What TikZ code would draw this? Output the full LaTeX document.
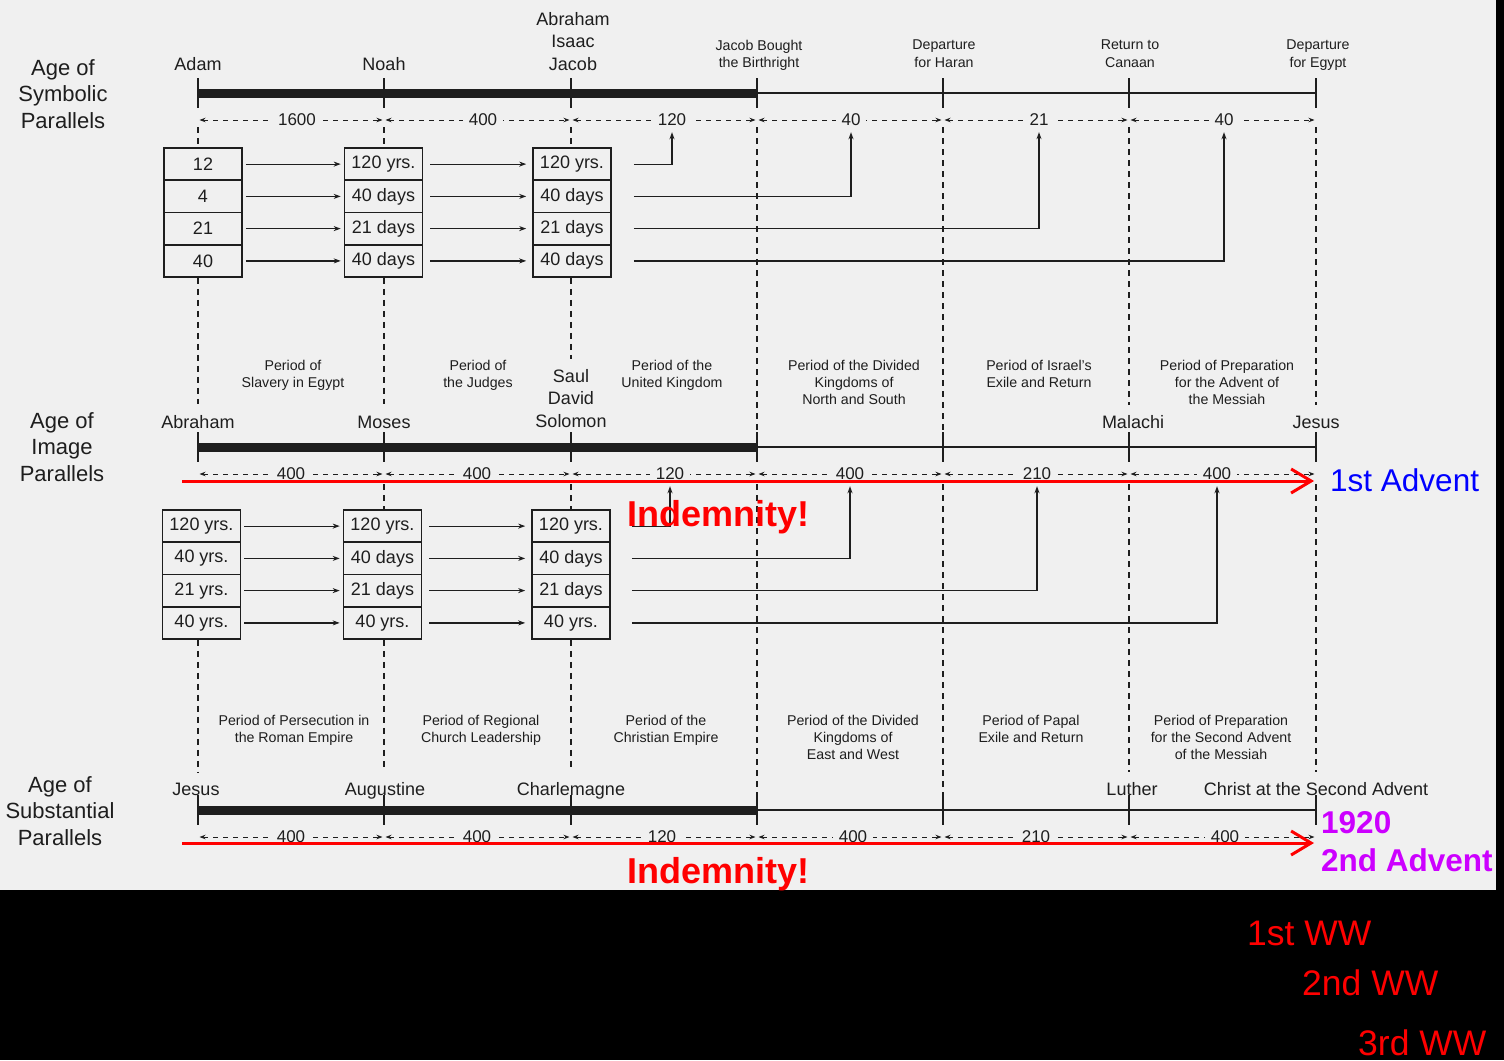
\documentclass[tikz,border=0pt]{standalone}
\usepackage{fontspec}
\setmainfont{Liberation Sans}
\usetikzlibrary{arrows.meta}
\definecolor{paper}{RGB}{240,240,240}
\definecolor{ink}{RGB}{30,30,30}
\definecolor{advblue}{RGB}{0,0,255}
\definecolor{advmag}{RGB}{204,0,255}
\tikzset{
  agetitle/.style={anchor=north, align=center, inner sep=0pt, text=ink, font=\fontsize{22}{26.5}\selectfont},
  pname/.style={anchor=base, inner sep=0pt, text=ink, font=\fontsize{18}{22.5}\selectfont},
  pnames/.style={anchor=north, align=center, inner sep=0pt, text=ink, font=\fontsize{18}{22.5}\selectfont},
  plabel/.style={anchor=north, align=center, inner sep=0pt, text=ink, font=\fontsize{14.2}{17.2}\selectfont},
  heavy/.style={draw=ink, line width=9pt},
  light/.style={draw=ink, line width=2.5pt},
  tickmark/.style={draw=ink, line width=1.8pt},
  span/.style={draw=ink, line width=1pt, dash pattern=on 5pt off 5pt, arrows={Stealth[length=6pt,width=4.5pt]-Stealth[length=6pt,width=4.5pt]}},
  spanlbl/.style={fill=paper, inner xsep=6pt, inner ysep=2pt, text=ink, font=\fontsize{17}{20}\selectfont},
  cell/.style={draw=ink, line width=1.6pt, minimum width=78pt, minimum height=32.25pt, inner sep=0pt, text=ink, font=\fontsize{18}{20}\selectfont},
  link/.style={draw=ink, line width=1.2pt, arrows={-Stealth[length=7pt,width=5pt]}},
  guide/.style={draw=ink, line width=1.2pt, dash pattern=on 6pt off 5pt},
  redarrow/.style={draw=red, line width=3pt, arrows={-Straight Barb[length=20pt,width=24pt]}},
  indem/.style={anchor=base, inner sep=0pt, text=red, font=\fontsize{36}{40}\selectfont\bfseries},
  advlbl/.style={anchor=base west, inner sep=0pt, font=\fontsize{31.5}{36}\selectfont},
  ww/.style={anchor=base west, inner sep=0pt, text=red, font=\fontsize{35.5}{40}\selectfont},
}
\begin{document}
\begin{tikzpicture}[x=1pt,y=-1pt]
\useasboundingbox (0,0) rectangle (1504,1060);
\fill[black] (0,0) rectangle (1504,1060);
\fill[paper] (0,0) rectangle (1496,890);

% column coordinates
\foreach \col/\xx in {A/198,B/384,C/571,D/757,E/943,F/1129,G/1316}{
  \coordinate (t1\col) at (\xx,93);
  \coordinate (m1\col) at (\xx,120);
  \coordinate (t2\col) at (\xx,447);
  \coordinate (m2\col) at (\xx,474);
  \coordinate (t3\col) at (\xx,810);
  \coordinate (m3\col) at (\xx,837);
}

% titles
\node[agetitle] (title1) at (63,59) {Age of\\Symbolic\\Parallels};
\node[agetitle] (title2) at (62,412) {Age of\\Image\\Parallels};
\node[agetitle] (title3) at (60,776) {Age of\\Substantial\\Parallels};

% ---------- Row 1 ----------
\node[pname] (adam) at (198,70) {Adam};
\node[pname] (noah) at (384,70) {Noah};
\node[pnames] (aij) at (573,12) {Abraham\\Isaac\\Jacob};
\node[plabel] (jbb) at (759,40) {Jacob Bought\\the Birthright};
\node[plabel] (dfh) at (944,40) {Departure\\for Haran};
\node[plabel] (rtc) at (1130,40) {Return to\\Canaan};
\node[plabel] (dfe) at (1318,40) {Departure\\for Egypt};

% ---------- Row 2 labels ----------
\node[plabel] (per21) at (293,360) {Period of\\Slavery in Egypt};
\node[plabel] (per22) at (478,360) {Period of\\the Judges};
\node[plabel] (per23) at (672,360) {Period of the\\United Kingdom};
\node[plabel] (per24) at (854,360) {Period of the Divided\\Kingdoms of\\North and South};
\node[plabel] (per25) at (1039,360) {Period of Israel's\\Exile and Return};
\node[plabel] (per26) at (1227,360) {Period of Preparation\\for the Advent of\\the Messiah};
\node[pname] (abraham2) at (198,428) {Abraham};
\node[pname] (moses) at (384,428) {Moses};
\node[pnames] (sds) at (571,369) {Saul\\David\\Solomon};
\node[pname] (malachi) at (1133,428) {Malachi};
\node[pname] (jesus2) at (1316,428) {Jesus};

% ---------- Row 3 labels ----------
\node[plabel] (per31) at (294,715) {Period of Persecution in\\the Roman Empire};
\node[plabel] (per32) at (481,715) {Period of Regional\\Church Leadership};
\node[plabel] (per33) at (666,715) {Period of the\\Christian Empire};
\node[plabel] (per34) at (853,715) {Period of the Divided\\Kingdoms of\\East and West};
\node[plabel] (per35) at (1031,715) {Period of Papal\\Exile and Return};
\node[plabel] (per36) at (1221,715) {Period of Preparation\\for the Second Advent\\of the Messiah};
\node[pname] (jesus3) at (196,795) {Jesus};
\node[pname] (augustine) at (385,795) {Augustine};
\node[pname] (charlemagne) at (571,795) {Charlemagne};
\node[pname] (luther) at (1132,795) {Luther};
\node[pname] (christ) at (1316,795) {Christ at the Second Advent};

% ---------- timelines ----------
\foreach \rw in {1,2,3}{
  \draw[heavy] (t\rw A) -- (t\rw D);
  \draw[light] (t\rw D) -- (t\rw G);
  \foreach \col in {A,B,C,D,E,F,G}
    \draw[tickmark] ([yshift=15pt]t\rw\col) -- ([yshift=-15pt]t\rw\col);
  \foreach \ca/\cb in {A/B,B/C,C/D,D/E,E/F,F/G}
    \draw[span] ([xshift=1.5pt]m\rw\ca) -- ([xshift=-1.5pt]m\rw\cb);
}

% span labels
\node[spanlbl] (s1ab) at (297,120) {1600};
\node[spanlbl] (s1bc) at (483,120) {400};
\node[spanlbl] (s1cd) at (672,120) {120};
\node[spanlbl] (s1de) at (851,120) {40};
\node[spanlbl] (s1ef) at (1039,120) {21};
\node[spanlbl] (s1fg) at (1224,120) {40};

\node[spanlbl] (s2ab) at (291,474) {400};
\node[spanlbl] (s2bc) at (477,474) {400};
\node[spanlbl] (s2cd) at (670,474) {120};
\node[spanlbl] (s2de) at (850,474) {400};
\node[spanlbl] (s2ef) at (1037,474) {210};
\node[spanlbl] (s2fg) at (1217,474) {400};

\node[spanlbl] (s3ab) at (291,837) {400};
\node[spanlbl] (s3bc) at (477,837) {400};
\node[spanlbl] (s3cd) at (662,837) {120};
\node[spanlbl] (s3de) at (853,837) {400};
\node[spanlbl] (s3ef) at (1036,837) {210};
\node[spanlbl] (s3fg) at (1225,837) {400};

% ---------- cells ----------
\foreach \i/\yy/\ta/\tb/\tc in {1/164.1/12/120 yrs./120 yrs.,2/196.4/4/40 days/40 days,3/228.6/21/21 days/21 days,4/260.9/40/40 days/40 days}{
  \node[cell] (p1A\i) at (203,\yy) {\ta};
  \node[cell] (p1B\i) at (383.5,\yy) {\tb};
  \node[cell] (p1C\i) at (572,\yy) {\tc};
}
\foreach \i/\yy/\ta/\tb/\tc in {1/526.1/120 yrs./120 yrs./120 yrs.,2/558.4/40 yrs./40 days/40 days,3/590.6/21 yrs./21 days/21 days,4/622.9/40 yrs./40 yrs./40 yrs.}{
  \node[cell] (p2A\i) at (201.5,\yy) {\ta};
  \node[cell] (p2B\i) at (382.5,\yy) {\tb};
  \node[cell] (p2C\i) at (571,\yy) {\tc};
}

% links between cells
\foreach \rw in {1,2}{
  \foreach \i in {1,2,3,4}{
    \draw[link, shorten <=3pt, shorten >=3pt] (p\rw A\i) -- (p\rw B\i);
    \draw[link, shorten <=7pt, shorten >=6pt] (p\rw B\i) -- (p\rw C\i);
  }
}
\draw[link, shorten <=22pt, shorten >=4pt] (p1C1) -| (s1cd);
\draw[link, shorten <=22pt, shorten >=4pt] (p1C2) -| (s1de);
\draw[link, shorten <=22pt, shorten >=4pt] (p1C3) -| (s1ef);
\draw[link, shorten <=22pt, shorten >=4pt] (p1C4) -| (s1fg);
\draw[link, shorten <=21pt, shorten >=4pt] (p2C1) -| (s2cd);
\draw[link, shorten <=21pt, shorten >=4pt] (p2C2) -| (s2de);
\draw[link, shorten <=21pt, shorten >=4pt] (p2C3) -| (s2ef);
\draw[link, shorten <=21pt, shorten >=4pt] (p2C4) -| (s2fg);

% ---------- vertical guides row 1 -> row 2 ----------
\draw[guide] ([yshift=-7pt]m1A) -- (m1A |- p1A1.north);
\draw[guide] ([yshift=-7pt]m1B) -- (m1B |- p1B1.north);
\draw[guide] ([yshift=-7pt]m1C) -- (m1C |- p1C1.north);
\draw[guide, shorten >=11pt] (m1A |- p1A4.south) -- (m1A |- abraham2.north);
\draw[guide, shorten >=11pt] (m1B |- p1B4.south) -- (m1B |- moses.north);
\draw[guide, shorten >=10pt] (m1C |- p1C4.south) -- (m1C |- sds.north);
\draw[guide] ([yshift=-7pt]m1D) -- ([yshift=15pt]t2D);
\draw[guide] ([yshift=-7pt]m1E) -- ([yshift=15pt]t2E);
\draw[guide, shorten >=10pt] ([yshift=-7pt]m1F) -- (m1F |- malachi.north);
\draw[guide, shorten >=10pt] ([yshift=-7pt]m1G) -- (m1G |- jesus2.north);

% ---------- vertical guides row 2 -> row 3 ----------
\draw[guide] ([yshift=-10pt]m2B) -- (m2B |- p2B1.north);
\draw[guide] ([yshift=-10pt]m2C) -- (m2C |- p2C1.north);
\draw[guide, shorten >=10pt] (m2A |- p2A4.south) -- (m2A |- jesus3.north);
\draw[guide, shorten >=10pt] (m2B |- p2B4.south) -- (m2B |- augustine.north);
\draw[guide, shorten >=10pt] (m2C |- p2C4.south) -- (m2C |- charlemagne.north);
\draw[guide] ([yshift=-10pt]m2D) -- ([yshift=15pt]t3D);
\draw[guide] ([yshift=-10pt]m2E) -- ([yshift=15pt]t3E);
\draw[guide, shorten >=10pt] ([yshift=-10pt]m2F) -- (m2F |- luther.north);
\draw[guide, shorten >=10pt] ([yshift=-10pt]m2G) -- (m2G |- christ.north);

% ---------- red overlays ----------
\coordinate (r2s) at (182,481);
\coordinate (r2e) at (1314,481);
\coordinate (r3s) at (182,843);
\coordinate (r3e) at (1314,843);
\draw[redarrow] (r2s) -- (r2e);
\draw[redarrow] (r3s) -- (r3e);

\node[advlbl, text=advblue] (adv1) at (1330,491) {1st Advent};
\node[advlbl, text=advmag, font=\fontsize{31.5}{36}\selectfont\bfseries] (y1920) at (1321,833) {1920};
\node[advlbl, text=advmag, font=\fontsize{31.5}{36}\selectfont\bfseries] (adv2) at (1321,871) {2nd Advent};

\node[indem] (ind1) at (718,526) {Indemnity!};
\node[indem] (ind2) at (718,883) {Indemnity!};

\node[ww] (ww1) at (1247,945) {1st WW};
\node[ww] (ww2) at (1302,995) {2nd WW};
\node[ww] (ww3) at (1358,1055) {3rd WW};
\end{tikzpicture}
\end{document}
